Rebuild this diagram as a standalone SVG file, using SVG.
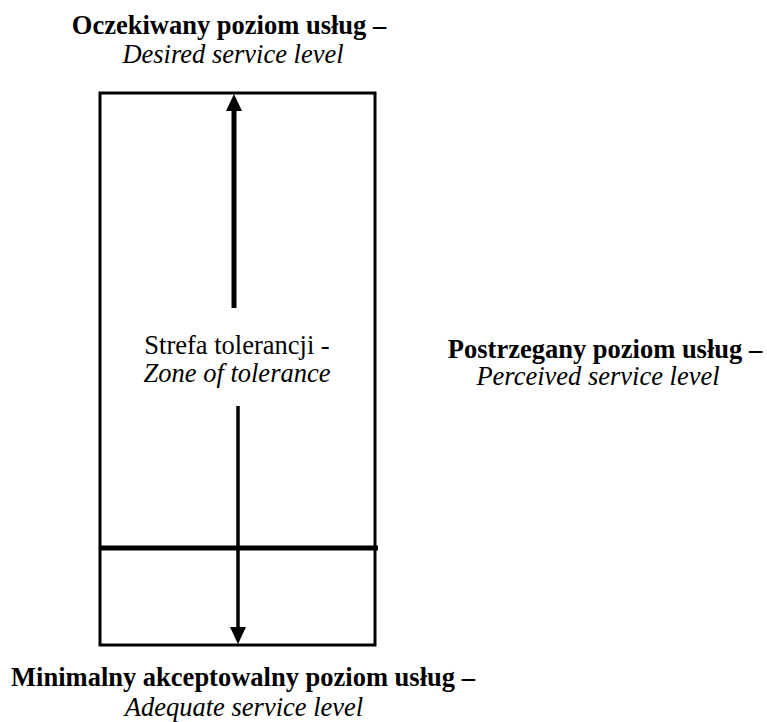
<svg xmlns="http://www.w3.org/2000/svg" width="767" height="722" viewBox="0 0 767 722">
<style>
.b{font-family:"Liberation Serif","Times New Roman",serif;font-weight:bold;font-size:26.5px;text-anchor:middle;fill:#000}
.i{font-family:"Liberation Serif","Times New Roman",serif;font-style:italic;font-size:26.5px;text-anchor:middle;fill:#000}
.r{font-family:"Liberation Serif","Times New Roman",serif;font-size:26.5px;text-anchor:middle;fill:#000}
</style>
<rect width="767" height="722" fill="#fff"/>
<g id="zone">
<rect x="100" y="93" width="275" height="552" fill="none" stroke="#000" stroke-width="3"/>
<text class="r" x="237" y="354">Strefa tolerancji -</text>
<text class="i" x="237" y="382">Zone of tolerance</text>
</g>
<g id="adequate-line">
<line x1="100" y1="548" x2="378" y2="548" stroke="#000" stroke-width="5"/>
</g>
<g id="desired">
<text class="b" x="229" y="34">Oczekiwany poziom usług –</text>
<text class="i" x="233" y="63">Desired service level</text>
</g>
<g id="perceived">
<text class="b" x="605" y="358">Postrzegany poziom usług –</text>
<text class="i" x="598" y="385">Perceived service level</text>
</g>
<g id="adequate">
<text class="b" x="243" y="686">Minimalny akceptowalny poziom usług –</text>
<text class="i" x="244" y="716">Adequate service level</text>
</g>
<g id="connectors">
<line x1="234" y1="308" x2="234" y2="108" stroke="#000" stroke-width="5"/>
<polygon points="234,94 226,111 242,111" fill="#000"/>
<line x1="238" y1="406" x2="238" y2="630" stroke="#000" stroke-width="3.5"/>
<polygon points="238,644 230,627 246,627" fill="#000"/>
</g>
</svg>
